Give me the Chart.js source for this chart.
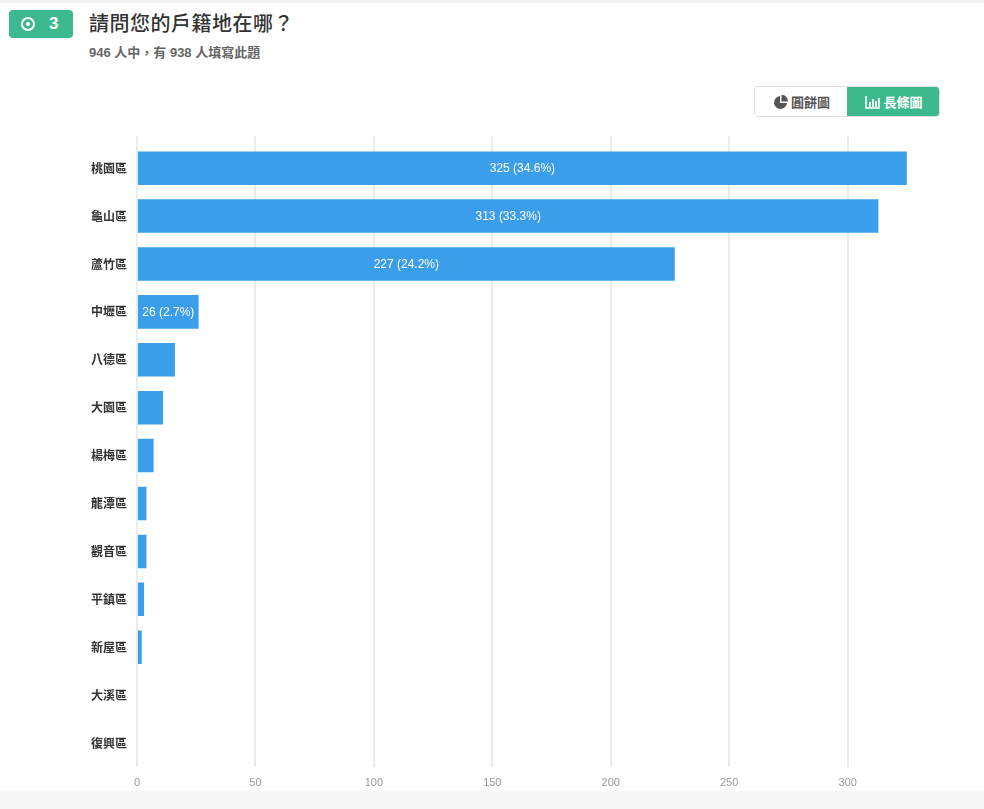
<!DOCTYPE html>
<html lang="zh-Hant">
<head>
<meta charset="utf-8">
<title>請問您的戶籍地在哪？</title>
<script src="https://cdn.jsdelivr.net/npm/chart.js@4.4.1/dist/chart.umd.min.js"></script>
<style>
    html, body { margin: 0; padding: 0; }
    body {
        width: 984px; height: 809px; position: relative; overflow: hidden;
        background: #fff;
        font-family: "Liberation Sans", Arial, "Noto Sans CJK TC", sans-serif;
    }
    .top-shade { position: absolute; left: 0; top: 0; width: 984px; height: 3px; background: #f2f2f2; }
    .bottom-strip { position: absolute; left: 0; top: 791px; width: 984px; height: 18px; background: #f7f7f7; }
    .badge {
        position: absolute; left: 9px; top: 10px; width: 64px; height: 28px;
        background: #3dba8d; border-radius: 4px; color: #fff;
    }
    .badge .radio {
        position: absolute; left: 12px; top: 7px; width: 10px; height: 10px;
        border: 2px solid #fff; border-radius: 50%;
    }
    .badge .radio::after {
        content: ''; position: absolute; left: 3px; top: 3px; width: 4px; height: 4px;
        background: #fff; border-radius: 50%;
    }
    .badge .num { position: absolute; left: 40px; top: 4px; font-size: 17px; font-weight: bold; }
    .title {
        position: absolute; left: 89px; top: 8px; font-size: 20px; color: #333;
        font-family: "Noto Sans CJK TC", sans-serif; font-weight: 500; letter-spacing: 0.5px;
    }
    .subtitle {
        position: absolute; left: 89px; top: 42px; font-size: 13px; color: #666; font-weight: bold;
        font-family: "Liberation Sans", Arial, "Noto Sans CJK TC", sans-serif;
    }
    .switch {
        position: absolute; left: 754px; top: 86px; width: 186px; height: 31px;
        border: 1px solid #ddd; border-radius: 4px; box-sizing: border-box; overflow: hidden;
        font-size: 13px; font-weight: bold; font-family: "Noto Sans CJK TC", sans-serif;
    }
    .switch .btn { position: absolute; top: 0; height: 100%; display: flex; align-items: center; justify-content: center; }
    .switch .pie { left: 0; width: 93px; color: #555; background: #fff; }
    .switch .bar { left: 92px; width: 94px; color: #fff; background: #3dba8d; }
    .switch svg { margin-right: 2px; }
    .chart-box { position: absolute; left: 80px; top: 127px; width: 860px; height: 665px; }
</style>
</head>
<body>
<div class="top-shade"></div>
<div class="badge"><div class="radio"></div><div class="num">3</div></div>
<div class="title">請問您的戶籍地在哪？</div>
<div class="subtitle">946 人中，有 938 人填寫此題</div>

<div class="switch">
    <div class="btn pie">
        <svg width="16" height="16" viewBox="0 0 16 16">
            <path d="M7 2 A6.5 6.5 0 1 0 14 9 L7 9 Z" fill="#555"/>
            <path d="M8.5 0.8 A6.5 6.5 0 0 1 15 7.5 L8.5 7.5 Z" fill="#555"/>
        </svg>圓餅圖
    </div>
    <div class="btn bar">
        <svg width="16" height="14" viewBox="0 0 16 14">
            <path d="M1 1 V13 H15" stroke="#fff" stroke-width="1.6" fill="none"/>
            <rect x="4" y="7" width="1.8" height="5" fill="#fff"/>
            <rect x="7" y="4" width="1.8" height="8" fill="#fff"/>
            <rect x="10" y="6" width="1.8" height="6" fill="#fff"/>
            <rect x="13" y="3" width="1.8" height="9" fill="#fff"/>
        </svg>長條圖
    </div>
</div>

<div class="bottom-strip"></div>
<div class="chart-box"><canvas id="answer-chart"></canvas></div>

<script>
// =================================================================
// ===== 1. DATA ===================================================
// =================================================================
const districts = ['桃園區', '龜山區', '蘆竹區', '中壢區', '八德區', '大園區', '楊梅區',
                   '龍潭區', '觀音區', '平鎮區', '新屋區', '大溪區', '復興區'];
const answerCounts = [325, 313, 227, 26, 16, 11, 7, 4, 4, 3, 2, 0, 0];
const respondents = 938;
const xTicks = [0, 50, 100, 150, 200, 250, 300];
const xMax = 339;

// percentages are cut (not rounded) to one decimal, like 26 -> 2.7%
function percentText(v) {
    return (Math.floor(v / respondents * 1000) / 10).toFixed(1) + '%';
}

// =================================================================
// ===== 2. IN-BAR LABELS ==========================================
// =================================================================
const barLabels = {
    id: 'barLabels',
    afterDatasetsDraw(chart) {
        const ctx = chart.ctx;
        const meta = chart.getDatasetMeta(0);
        ctx.save();
        ctx.font = '12px "Liberation Sans", Arial, sans-serif';
        ctx.fillStyle = '#fff';
        ctx.textAlign = 'center';
        ctx.textBaseline = 'middle';
        meta.data.forEach((bar, i) => {
            const text = answerCounts[i] + ' (' + percentText(answerCounts[i]) + ')';
            const w = bar.x - bar.base;
            // only draw when it fits inside the bar
            if (ctx.measureText(text).width + 6 < w) {
                ctx.fillText(text, (bar.x + bar.base) / 2, bar.y + 1);
            }
        });
        ctx.restore();
    }
};

// =================================================================
// ===== 3. CHART ==================================================
// =================================================================
const gridColor = '#ebebeb';

new Chart(document.getElementById('answer-chart').getContext('2d'), {
    type: 'bar',
    data: {
        labels: districts,
        datasets: [{
            data: answerCounts,
            backgroundColor: '#3a9eea',
            borderWidth: 0,
            barPercentage: 0.7,
            categoryPercentage: 1.0
        }]
    },
    options: {
        indexAxis: 'y',
        responsive: true,
        maintainAspectRatio: false,
        animation: false,
        layout: { padding: { top: 0, right: 0 } },
        plugins: { legend: { display: false }, tooltip: { enabled: false } },
        scales: {
            x: {
                min: 0,
                max: xMax,
                afterBuildTicks: axis => { axis.ticks = xTicks.map(v => ({ value: v })); },
                afterFit: axis => { axis.height = 25; },
                border: { display: false },
                grid: { color: gridColor, lineWidth: 2, drawTicks: false },
                ticks: {
                    color: '#999',
                    padding: 9,
                    font: { size: 11, family: '"Liberation Sans", Arial, sans-serif' }
                }
            },
            // top twin axis: only its tick marks, so grid lines run a bit above the bars
            xTop: {
                position: 'top',
                min: 0,
                max: xMax,
                afterBuildTicks: axis => { axis.ticks = xTicks.map(v => ({ value: v })); },
                border: { display: false },
                grid: { color: gridColor, lineWidth: 2, drawOnChartArea: false, tickLength: 8 },
                ticks: { display: false }
            },
            y: {
                afterFit: axis => { axis.width = 57; },
                border: { display: false },
                grid: { display: false, drawTicks: false },
                ticks: {
                    color: '#333',
                    padding: 10,
                    font: { size: 12, weight: 'bold', family: '"Noto Sans CJK TC", sans-serif' }
                }
            }
        }
    },
    plugins: [barLabels]
});
</script>
</body>
</html>
